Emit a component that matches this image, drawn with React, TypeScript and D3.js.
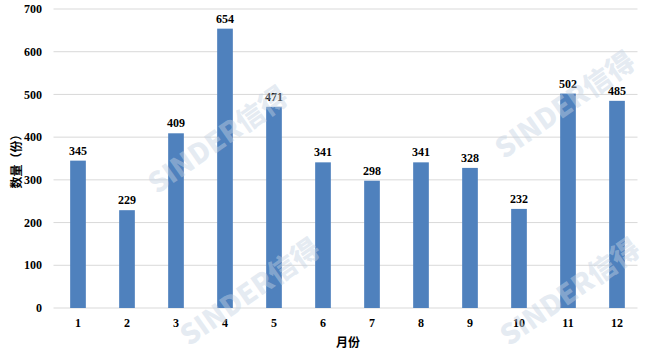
import React from "react";
import * as d3 from "d3";

const months = ["1", "2", "3", "4", "5", "6", "7", "8", "9", "10", "11", "12"];
const counts = [345, 229, 409, 654, 471, 341, 298, 341, 328, 232, 502, 485];
const yTicks = [0, 100, 200, 300, 400, 500, 600, 700];
const yTitle = "数量（份）";
const xTitle = "月份";
const watermark = "SINDER信得";

export default function App() {
  const W = 650, H = 354;
  const left = 53.5, right = 641.5, top = 9, bottom = 308;
  const x = d3.scaleBand<string>().domain(months).range([left, right]).paddingInner(0.68).paddingOuter(0.34);
  const y = d3.scaleLinear().domain([0, 700]).range([bottom, top]);
  const font = "'Liberation Serif', 'Times New Roman', serif";
  const wm = [
    { x: 218, y: 140 },
    { x: 565, y: 105 },
    { x: 250, y: 292 },
    { x: 570, y: 292 },
  ];
  return (
    <svg width={W} height={H} style={{ position: "absolute", left: 0, top: 0, background: "#fff" }}>
      {yTicks.map((t) => (
        <g key={t}>
          <line x1={left} x2={right - 4} y1={y(t)} y2={y(t)} stroke="#d9d9d9" strokeWidth={1} />
          <text x={42} y={y(t)} dy="0.35em" textAnchor="end" fontFamily={font} fontWeight="bold" fontSize={12} fill="#000">{t}</text>
        </g>
      ))}
      {months.map((m, i) => (
        <g key={m}>
          <rect x={x(m)!} y={y(counts[i])} width={x.bandwidth()} height={bottom - y(counts[i])} fill="#4f81bd" />
          <text x={x(m)! + x.bandwidth() / 2} y={y(counts[i]) - 6} textAnchor="middle" fontFamily={font} fontWeight="bold" fontSize={12} fill="#000">{counts[i]}</text>
          <text x={x(m)! + x.bandwidth() / 2} y={327} textAnchor="middle" fontFamily={font} fontWeight="bold" fontSize={12} fill="#000">{m}</text>
        </g>
      ))}
      <text transform={`translate(17,${(top + bottom) / 2}) rotate(-90)`} textAnchor="middle" dy="0.35em" fontFamily="'Noto Sans CJK SC', sans-serif" fontWeight="bold" fontSize={12} fill="#000">{yTitle}</text>
      <text x={348} y={347} textAnchor="middle" fontFamily="'Noto Sans CJK SC', sans-serif" fontWeight="bold" fontSize={12} fill="#000">{xTitle}</text>
      {wm.map((p, i) => (
        <text key={i} transform={`translate(${p.x},${p.y}) rotate(-35)`} textAnchor="middle" dy="0.35em" fontFamily="'Noto Sans CJK SC', sans-serif" fontWeight="900" fontSize={28} fill="#c5d3e3" fillOpacity={0.45}>{watermark}</text>
      ))}
    </svg>
  );
}
